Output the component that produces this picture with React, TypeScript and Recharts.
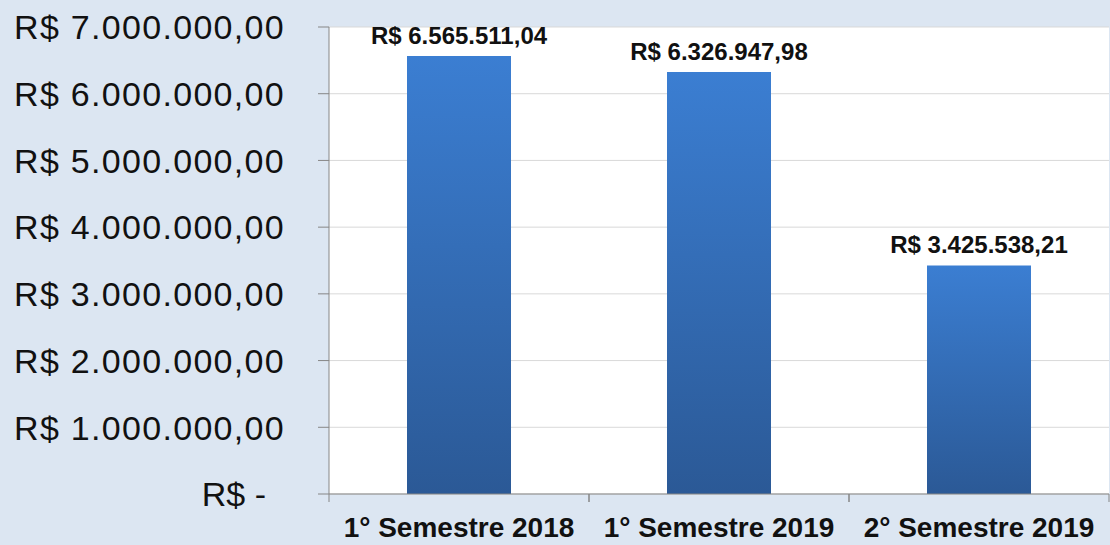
import { BarChart, Bar, XAxis, YAxis, CartesianGrid, LabelList } from "recharts"

const categories = ["1° Semestre 2018", "1° Semestre 2019", "2° Semestre 2019"]
const values = [6565511.04, 6326947.98, 3425538.21]
const yTicks = [0, 1000000, 2000000, 3000000, 4000000, 5000000, 6000000, 7000000]

const data = categories.map((name, i) => ({ name, value: values[i] }))

const W = 1110
const H = 545
const AXIS_W = 329
const RIGHT = 1
const BAND = (W - AXIS_W - RIGHT) / categories.length
const FONT = "'Liberation Sans', Arial, Helvetica, sans-serif"
const AXIS_GRAY = "#868686"

function brl(v: number) {
  const [int, dec] = v.toFixed(2).split(".")
  const withDots = int.replace(/\B(?=(\d{3})+(?!\d))/g, ".")
  return `R$ ${withDots},${dec}`
}

function YTick({ x, y, payload }: any) {
  const zero = payload.value === 0
  return (
    <text
      x={zero ? x - 19 : x}
      y={y}
      dy="0.36em"
      textAnchor="end"
      fontFamily={FONT}
      fontSize={34}
      letterSpacing={zero ? 0 : 1.3}
      fill="#111"
    >
      {zero ? "R$ -" : brl(payload.value)}
    </text>
  )
}

function XTick({ x, y, payload }: any) {
  return (
    <g>
      <line x1={x - BAND / 2} x2={x - BAND / 2} y1={y} y2={y + 8} stroke={AXIS_GRAY} />
      <line x1={x + BAND / 2} x2={x + BAND / 2} y1={y} y2={y + 8} stroke={AXIS_GRAY} />
      <text
        x={x}
        y={y + 43}
        textAnchor="middle"
        fontFamily={FONT}
        fontSize={28}
        fontWeight="bold"
        fill="#111"
      >
        {payload.value}
      </text>
    </g>
  )
}

function ValueLabel({ x, y, width, value }: any) {
  return (
    <text
      x={x + width / 2}
      y={y - 12}
      textAnchor="middle"
      fontFamily={FONT}
      fontSize={24}
      fontWeight="bold"
      fill="#111"
    >
      {brl(value)}
    </text>
  )
}

export default function App() {
  return (
    <div
      style={{
        position: "absolute",
        left: 0,
        top: 0,
        width: W,
        height: H,
        background: "#dce6f2",
      }}
    >
      <BarChart
        width={W}
        height={H}
        data={data}
        margin={{ top: 27, right: RIGHT, left: 0, bottom: 0 }}
        barCategoryGap={0}
      >
        <defs>
          <linearGradient id="barGrad" x1="0" y1="0" x2="0" y2="1">
            <stop offset="0%" stopColor="#3b7ed2" />
            <stop offset="100%" stopColor="#2b5996" />
          </linearGradient>
        </defs>
        <CartesianGrid vertical={false} stroke="#d9d9d9" fill="#ffffff" />
        <XAxis
          dataKey="name"
          height={51}
          tickLine={false}
          tickSize={0}
          tickMargin={0}
          axisLine={{ stroke: AXIS_GRAY }}
          tick={<XTick />}
          interval={0}
        />
        <YAxis
          width={AXIS_W}
          domain={[0, 7000000]}
          ticks={yTicks}
          tickSize={11}
          tickMargin={33}
          axisLine={{ stroke: AXIS_GRAY }}
          tickLine={{ stroke: AXIS_GRAY }}
          tick={<YTick />}
          interval={0}
        />
        <Bar dataKey="value" barSize={104} fill="url(#barGrad)" isAnimationActive={false}>
          <LabelList dataKey="value" content={<ValueLabel />} />
        </Bar>
      </BarChart>
    </div>
  )
}
